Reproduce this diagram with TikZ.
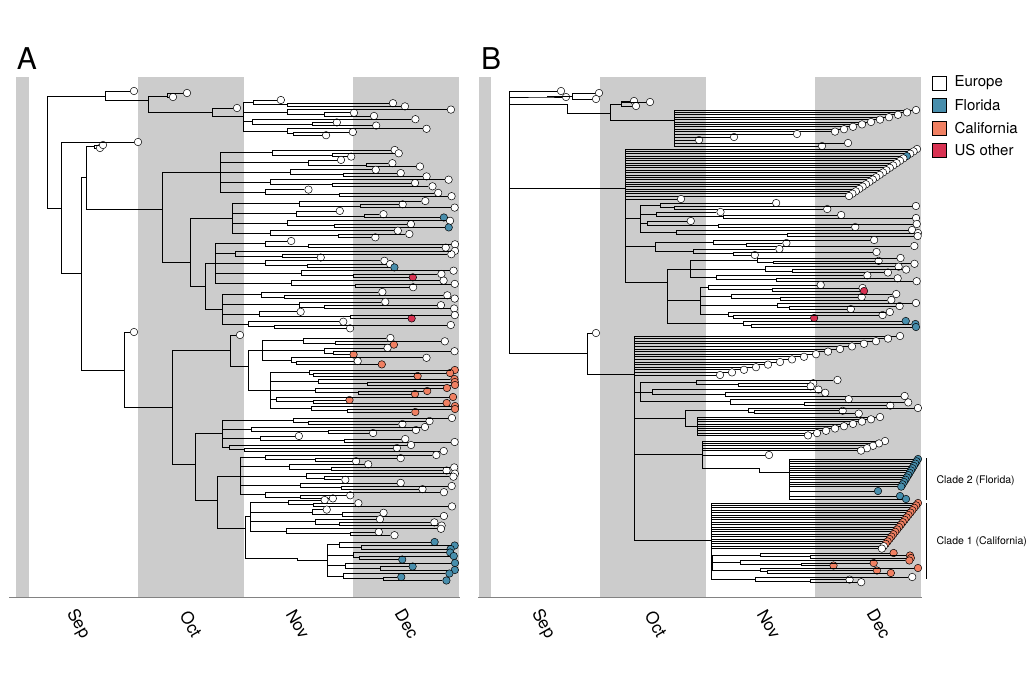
\documentclass[tikz,border=0pt]{standalone}
\usepackage{fontspec}
\setmainfont{TeX Gyre Heros}
\definecolor{bandgray}{RGB}{204,204,204}
\definecolor{axisgray}{RGB}{130,130,130}
\definecolor{flo}{RGB}{72,142,172}
\definecolor{cal}{RGB}{240,128,98}
\definecolor{usr}{RGB}{216,50,82}
\tikzset{
  leaf/.style={circle, draw=black, line width=0.5pt, fill=#1, inner sep=0pt, minimum size=7.5pt},
  leaf/.default=white,
  branchline/.style={line width=0.7pt, black},
  bandbox/.style={fill=bandgray, draw=none},
  monthlbl/.style={rotate=-60, font=\fontsize{17}{17}\selectfont},
  panellbl/.style={font=\fontsize{30}{30}\selectfont},
  keybox/.style={draw=black, line width=0.6pt, minimum size=14pt, inner sep=0pt},
  keytext/.style={anchor=west, font=\fontsize{15}{15}\selectfont},
  cladelbl/.style={anchor=west, font=\fontsize{10.5}{10.5}\selectfont},
}
% polytomy: name, x, first y, count, gap, first leaf x, leaf step, colour, extra colours i/c
\newcommand{\comb}[9]{%
  \pgfmathsetmacro\cmid{#3+(#4-1)*#5/2}%
  \coordinate (#1) at (#2,\cmid);
  \foreach \i in {1,...,#4}{%
    \pgfmathsetmacro\cy{#3+(\i-1)*#5}%
    \pgfmathsetmacro\cx{#6-(\i-1)*#7}%
    \gdef\leafc{#8}%
    \foreach \ai/\ac in {#9}{\ifnum\ai=\i\relax\xdef\leafc{\ac}\fi}%
    \node[leaf=\leafc] (#1-\i) at (\cx,\cy) {};
    \draw[branchline] (#1) |- (#1-\i);
  }%
}
% nested groups of three leaves: name, x, first y, groups, gap, colour, extra colours g/c
\newcommand{\twig}[7]{%
  \pgfmathsetmacro\tmid{#3+((#4-1)*1.5+0.75)*#5}%
  \coordinate (#1) at (#2,\tmid);
  \foreach \g in {1,...,#4}{%
    \pgfmathsetmacro\ya{#3+(\g-1)*3*#5}%
    \pgfmathsetmacro\yb{\ya+#5}%
    \pgfmathsetmacro\yc{\ya+2*#5}%
    \pgfmathsetmacro\ys{(\yb+\yc)/2}%
    \pgfmathsetmacro\yg{(\ya+\ys)/2}%
    \pgfmathsetmacro\sx{#2+4+rnd*(\xlim-#2-90)*0.6}%
    \pgfmathsetmacro\ssx{\sx+4+rnd*(\xlim-\sx-50)*0.6}%
    \pgfmathsetmacro\xa{\xlim-(rnd^\tipbias)*(\xlim-\sx-12)}%
    \pgfmathsetmacro\xb{\xlim-(rnd^\tipbias)*(\xlim-\ssx-12)}%
    \pgfmathsetmacro\xc{\xlim-(rnd^\tipbias)*(\xlim-\ssx-12)}%
    \gdef\leafc{#6}%
    \foreach \ai/\ac in {#7}{\ifnum\ai=\g\relax\xdef\leafc{\ac}\fi}%
    \coordinate (#1-\g) at (\sx,\yg);
    \coordinate (#1-\g-s) at (\ssx,\ys);
    \node[leaf=#6] (#1-\g-a) at (\xa,\ya) {};
    \node[leaf=#6] (#1-\g-b) at (\xb,\yb) {};
    \node[leaf=\leafc] (#1-\g-c) at (\xc,\yc) {};
    \draw[branchline] (#1) |- (#1-\g) |- (#1-\g-a);
    \draw[branchline] (#1-\g) |- (#1-\g-s) |- (#1-\g-b);
    \draw[branchline] (#1-\g-s) |- (#1-\g-c);
  }%
}
\begin{document}
\begin{tikzpicture}[x=1pt, y=-1pt]
\useasboundingbox (0,0) rectangle (1035,688);
\pgfmathsetseed{3}
\def\tipbias{2}

% month bands
\fill[bandbox] (16,77) rectangle (29,597);
\fill[bandbox] (138,77) rectangle (244,597);
\fill[bandbox] (353,77) rectangle (459,597);
\fill[bandbox] (479,77) rectangle (491,597);
\fill[bandbox] (600,77) rectangle (706,597);
\fill[bandbox] (815,77) rectangle (921,597);
\draw[axisgray, line width=1.5pt] (9,597.5) -- (460,597.5);
\draw[axisgray, line width=1.5pt] (478,597.5) -- (922,597.5);

\node[panellbl] (pA) at (27,59) {A};
\node[panellbl] (pB) at (491,59) {B};

% ---- panel A ----
\def\xlim{455}
\coordinate (Aroot) at (47,152);
\coordinate (At1) at (105,96);
\node[leaf] (Aa1) at (134,91) {};
\coordinate (At2) at (148,100);
\coordinate (At3) at (167,96);
\node[leaf] (Aa2) at (173,97) {};
\node[leaf] (Aa3) at (187,93) {};
\coordinate (At4) at (212,112);
\node[leaf] (Aa4) at (237,108) {};
\twig{AT}{243}{100}{4}{3.2}{white}{0/white}
\draw[branchline] (Aroot) |- (At1) |- (Aa1);
\draw[branchline] (At1) |- (At2) |- (At3) |- (Aa2);
\draw[branchline] (At3) |- (Aa3);
\draw[branchline] (At2) |- (At4) |- (Aa4);
\draw[branchline] (At4) |- (AT);

\coordinate (AN2) at (61,208);
\node[leaf] (Aa5) at (138,142) {};
\coordinate (AN3) at (81,273);
\coordinate (AN4) at (86,177);
\coordinate (AS) at (94,146);
\node[leaf] (Aa6) at (100,148) {};
\node[leaf] (Aa7) at (103,145) {};
\coordinate (AC1) at (162,209);
\twig{AC1a}{220}{150}{5}{3.3}{white}{0/white}
\coordinate (AC1L) at (190,262);
\twig{AC1b}{232}{201}{4}{3.3}{white}{2/flo,3/flo}
\coordinate (AC1M) at (205,286);
\twig{AC1c}{215}{241}{5}{3.3}{white}{3/flo,4/usr}
\twig{AC1d}{222}{292}{4}{3.3}{white}{3/usr}
\draw[branchline] (Aroot) |- (AN2) |- (Aa5);
\draw[branchline] (AN2) |- (AN3) |- (AN4) |- (AS) |- (Aa6);
\draw[branchline] (AS) |- (Aa7);
\draw[branchline] (AN4) |- (AC1) |- (AC1a);
\draw[branchline] (AC1) |- (AC1L) |- (AC1b);
\draw[branchline] (AC1L) |- (AC1M) |- (AC1c);
\draw[branchline] (AC1M) |- (AC1d);

\coordinate (AN5) at (124,370);
\node[leaf] (Aa8) at (134,332) {};
\coordinate (AN6) at (172,407);
\coordinate (AK) at (230,350);
\node[leaf] (Aa9) at (240,335) {};
\coordinate (AK2) at (248,366);
\twig{AKa}{262}{338}{3}{3.3}{white}{1/cal,2/cal,3/cal}
\def\tipbias{5}
\twig{AKb}{270}{370}{5}{3.0}{cal}{0/white}
\def\tipbias{2}
\coordinate (AL) at (195,464);
\twig{ALa}{222}{418}{4}{3.0}{white}{0/white}
\coordinate (AM) at (217,500);
\twig{AMa}{240}{455}{5}{3.1}{white}{0/white}
\coordinate (AM2) at (245,528);
\twig{AMc}{250}{500}{4}{3.2}{white}{0/white}
\coordinate (AF) at (297,558);
\def\tipbias{5}
\twig{AFa}{327}{542}{4}{3.5}{flo}{0/white}
\def\tipbias{2}
\draw[branchline] (AN3) |- (AN5) |- (Aa8);
\draw[branchline] (AN5) |- (AN6) |- (AK) |- (Aa9);
\draw[branchline] (AK) |- (AK2) |- (AKa);
\draw[branchline] (AK2) |- (AKb);
\draw[branchline] (AN6) |- (AL) |- (ALa);
\draw[branchline] (AL) |- (AM) |- (AMa);
\draw[branchline] (AM) |- (AM2) |- (AMc);
\draw[branchline] (AM2) |- (AF) |- (AFa);

% ---- panel B ----
\def\xlim{918}
\coordinate (Broot) at (509,188);
\node[leaf] (Bb1) at (561,91) {};
\coordinate (Bb2) at (547,97);
\node[leaf] (Bb2t) at (566,97) {};
\coordinate (Bb2a) at (572,96);
\node[leaf] (Bb2b) at (599,93) {};
\node[leaf] (Bb2c) at (596,99) {};
\coordinate (Bb3) at (567,104);
\coordinate (Bb4) at (610,113);
\coordinate (Bb5) at (621,104);
\node[leaf] (Bb5a) at (634,101) {};
\node[leaf] (Bb5b) at (636,106) {};
\node[leaf] (Bb5c) at (650,102) {};
\comb{BP0}{674}{110}{10}{2.4}{916}{9}{white}{0/white}
\node[leaf] (BP0x1) at (797,134) {};
\node[leaf] (BP0x2) at (734,137) {};
\node[leaf] (BP0x3) at (699,140) {};
\node[leaf] (BP0x4) at (848,143) {};
\node[leaf] (BP0x5) at (822,146) {};
\foreach \k in {1,...,5} \draw[branchline] (BP0) |- (BP0x\k);
\draw[branchline] (Broot) |- (Bb1);
\draw[branchline] (Broot) |- (Bb2) |- (Bb2t);
\draw[branchline] (Bb2) |- (Bb2a) |- (Bb2b);
\draw[branchline] (Bb2a) |- (Bb2c);
\draw[branchline] (Broot) |- (Bb3) |- (Bb4) |- (Bb5) |- (Bb5a);
\draw[branchline] (Bb5) |- (Bb5b);
\draw[branchline] (Bb5) |- (Bb5c);
\draw[branchline] (Bb4) |- (BP0);

\coordinate (BP1) at (625,188);
\comb{BP1c}{625}{149}{21}{2.35}{917}{3.4}{white}{4/flo}
\node[leaf] (BP1t) at (681,199) {};
\twig{BP1a}{640}{203}{4}{3.0}{white}{0/white}
\twig{BP1b}{655}{240}{2}{3.0}{white}{0/white}
\coordinate (BP2) at (667,282);
\twig{BP2a}{690}{258}{3}{2.9}{white}{0/white}
\twig{BP2b}{700}{285}{4}{3.0}{white}{1/usr,4/usr}
\twig{BP2c}{702}{321}{1}{3.0}{flo}{0/white}
\draw[branchline] (Broot) |- (BP1) |- (BP1c);
\draw[branchline] (BP1) |- (BP1t);
\draw[branchline] (BP1) |- (BP1a);
\draw[branchline] (BP1) |- (BP1b);
\draw[branchline] (BP1) |- (BP2) |- (BP2a);
\draw[branchline] (BP2) |- (BP2b);
\draw[branchline] (BP2) |- (BP2c);

\coordinate (BN) at (587,353);
\node[leaf] (BNt) at (596,333) {};
\coordinate (BQ) at (634,374);
\comb{BQ1}{634}{336}{16}{2.6}{900}{12}{white}{0/white}
\twig{BQ2}{640}{380}{3}{3.2}{white}{0/white}
\coordinate (BQ3) at (685,418);
\twig{BQ3a}{700}{408}{1}{2.8}{white}{0/white}
\comb{BQ3b}{697}{417}{9}{2.3}{880}{9}{white}{0/white}
\coordinate (BQ4) at (702,454);
\comb{BQ4a}{702}{441}{5}{2.4}{885}{6}{white}{0/white}
\node[leaf] (BQ4t) at (769,455) {};
\coordinate (BQ5) at (759,468);
\comb{BC2}{789}{459}{13}{2.3}{918}{1.4}{flo}{0/white}
\node[leaf=flo] (BC2x1) at (878,491) {};
\node[leaf=flo] (BC2x2) at (900,496) {};
\node[leaf=flo] (BC2x3) at (906,499) {};
\foreach \k in {1,2,3} \draw[branchline] (BC2) |- (BC2x\k);
\coordinate (BC1) at (711,540);
\comb{BC1c}{711}{503}{20}{2.4}{918}{1.9}{cal}{19/white,20/white}
\def\tipbias{5}
\twig{BC1x}{712}{553}{3}{2.5}{cal}{0/white}
\def\tipbias{2}
\twig{BC1z}{715}{577}{1}{2.6}{white}{0/white}
\draw[branchline] (Broot) |- (BN) |- (BNt);
\draw[branchline] (BN) |- (BQ) |- (BQ1);
\draw[branchline] (BQ) |- (BQ2);
\draw[branchline] (BQ) |- (BQ3) |- (BQ3a);
\draw[branchline] (BQ3) |- (BQ3b);
\draw[branchline] (BQ) |- (BQ4) |- (BQ4a);
\draw[branchline] (BQ4) |- (BQ4t);
\draw[branchline] (BQ4) |- (BQ5) |- (BC2);
\draw[branchline] (BQ) |- (BC1) |- (BC1c);
\draw[branchline] (BC1) |- (BC1x);
\draw[branchline] (BC1) |- (BC1z);

% clade bars
\coordinate (c2top) at (926,458);
\coordinate (c2bot) at (926,500);
\coordinate (c1top) at (926,503);
\coordinate (c1bot) at (926,579);
\draw[line width=0.8pt] (c2top) -- (c2bot);
\draw[line width=0.8pt] (c1top) -- (c1bot);
\node[cladelbl] (lc2) at (933,481) {Clade 2 (Florida)};
\node[cladelbl] (lc1) at (933,542) {Clade 1 (California)};

% legend
\node[keybox, fill=white] (kEur) at (939.5,83) {};
\node[keybox, fill=flo] (kFlo) at (939.5,105.5) {};
\node[keybox, fill=cal] (kCal) at (939.5,128) {};
\node[keybox, fill=usr] (kUsr) at (939.5,150.5) {};
\node[keytext] (tEur) at (951,83) {Europe};
\node[keytext] (tFlo) at (951,105.5) {Florida};
\node[keytext] (tCal) at (951,128) {California};
\node[keytext] (tUsr) at (951,150.5) {US other};

% months
\node[monthlbl] (mA1) at (78,624) {Sep};
\node[monthlbl] (mA2) at (191,624) {Oct};
\node[monthlbl] (mA3) at (298,624) {Nov};
\node[monthlbl] (mA4) at (407,624) {Dec};
\node[monthlbl] (mB1) at (543,624) {Sep};
\node[monthlbl] (mB2) at (656,624) {Oct};
\node[monthlbl] (mB3) at (769,624) {Nov};
\node[monthlbl] (mB4) at (879,624) {Dec};
\end{tikzpicture}
\end{document}
